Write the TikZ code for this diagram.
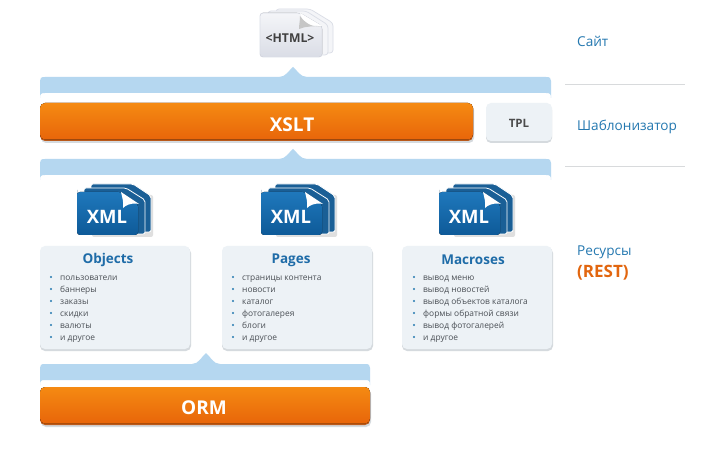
\documentclass[tikz,border=0pt]{standalone}
\usepackage{fontspec}
\setmainfont{Open Sans}
\usetikzlibrary{calc}
\definecolor{bandblue}{HTML}{B5D7F0}
\definecolor{orangeT}{HTML}{F58A12}
\definecolor{orangeB}{HTML}{E8650A}
\definecolor{orangeE}{HTML}{B9591A}
\definecolor{panel}{HTML}{EDF2F6}
\definecolor{panelS}{HTML}{D5DADE}
\definecolor{headblue}{HTML}{1F6CA8}
\definecolor{sideblue}{HTML}{2478B0}
\definecolor{restorange}{HTML}{E2660F}
\definecolor{itemtext}{HTML}{4A4F55}
\definecolor{xmlT}{HTML}{1F78BC}
\definecolor{xmlB}{HTML}{0E5A98}
\definecolor{xmlD}{HTML}{1A5F96}
\definecolor{sep}{HTML}{D8DADC}
\definecolor{htmlT}{HTML}{F4F5F8}
\definecolor{htmlB}{HTML}{DADDE6}
\tikzset{
  x=1pt,y=-1pt,
  bandfill/.style={fill=bandblue,draw=none},
  orangebar/.style={rounded corners=5pt,top color=orangeT,bottom color=orangeB,draw=none},
  orangeedge/.style={rounded corners=5pt,fill=orangeE,draw=none},
  softshadow/.style={rounded corners=5pt,fill=panelS,draw=none},
  panelbox/.style={rounded corners=5pt,fill=panel,draw=none},
  bartext/.style={text=white,font=\bfseries\fontsize{19}{22}\selectfont,inner sep=0pt,anchor=center},
  headtext/.style={text=headblue,font=\bfseries\fontsize{13.5}{16}\selectfont,inner sep=0pt,anchor=center},
  itemtextstyle/.style={text=itemtext,font=\fontsize{8.4}{12}\selectfont,inner sep=0pt,anchor=west},
  bulletdot/.style={circle,fill=sideblue,inner sep=0pt,minimum size=2.2pt},
  sidetext/.style={text=sideblue,font=\fontsize{13.6}{16}\selectfont,inner sep=0pt,anchor=west},
  sepline/.style={draw=sep,line width=0.8pt},
  xmlpage/.style={top color=xmlT,bottom color=xmlB,draw=none},
  xmlback/.style={fill=xmlD,draw=white,line width=0.8pt},
}
\newcommand{\bandshape}[6]{%
  \fill[bandfill] (#1,#4+5) -- (#1,#3+4) .. controls (#1,#3+1) and (#1+1,#3) .. (#1+5,#3)
    -- (#5-14,#3) .. controls (#5-7,#3) and (#5-4,#6+3) .. (#5,#6)
    .. controls (#5+4,#6+3) and (#5+7,#3) .. (#5+14,#3)
    -- (#2-5,#3) .. controls (#2-1,#3) and (#2,#3+1) .. (#2,#3+4) -- (#2,#4+5)
    .. controls (#2,#4+1) and (#2-1,#4) .. (#2-5,#4) -- (#1+5,#4) .. controls (#1+1,#4) and (#1,#4+1) .. (#1,#4+5) -- cycle;}
\newcommand{\xmlicon}[2]{%
  \begin{scope}[shift={(#1,192)}]
    \fill[gray!25,rounded corners=2pt] (15,3) rectangle (76,45);
    \fill[xmlback,rounded corners=2pt] (14,2) -- (14,-8) -- (56,-8) -- (74,4) -- (74,40) -- (14,40) -- cycle;
    \fill[xmlback,rounded corners=2pt] (7,2) -- (7,-4) -- (49,-4) -- (68,8) -- (68,42) -- (7,42) -- cycle;
    \fill[xmlpage,rounded corners=3pt] (0,1) -- (0,43) -- (61,43) -- (61,12) -- (44,0) -- (0,0) -- cycle;
    \fill[white] (44,0) -- (62,12) .. controls (54,10) and (48,14) .. (46,16) .. controls (47,10) and (45,5) .. (44,0) -- cycle;
    \node[inner sep=0pt,text=white,font=\bfseries\fontsize{18.5}{22}\selectfont] (#2) at (30,25) {XML};
  \end{scope}}
\begin{document}
\begin{tikzpicture}
\useasboundingbox (0,0) rectangle (710,449);
\fill[white] (0,0) rectangle (710,449);

% HTML icon
\begin{scope}[shift={(260,13)}]
  \fill[htmlT,draw=htmlB,line width=0.7pt,rounded corners=3pt] (16,-4) -- (50,-4) -- (73,10) -- (73,40) -- (16,40) -- cycle;
  \fill[htmlT,draw=htmlB,line width=0.7pt,rounded corners=3pt] (8,-2) -- (46,-2) -- (68,12) -- (68,42) -- (8,42) -- cycle;
  \fill[top color=htmlT,bottom color=htmlB,draw=htmlB,line width=0.7pt,rounded corners=3pt] (0,0) -- (40,0) -- (62,13) -- (62,44) -- (0,44) -- cycle;
  \fill[white] (40,0) -- (62,13) -- (44,12) -- cycle;
  \fill[gray!45] (40,3) .. controls (40,8) and (39,12) .. (39,16) .. controls (46,13) and (54,13) .. (62,14) .. controls (52,14) and (46,11) .. (40,3) -- cycle;
  \node[inner sep=0pt,text=black!75,font=\bfseries\fontsize{12.2}{14}\selectfont] (html) at (30,25) {<HTML>};
\end{scope}

% bands
\bandshape{40}{551}{77}{93}{293}{67}
\bandshape{40}{551}{159}{175}{293}{149}
\bandshape{40}{370}{364}{380}{206}{353}

% XSLT bar
\fill[softshadow] (41,105) rectangle (474,143);
\fill[orangeedge] (40,103) rectangle (473,141);
\fill[orangebar] (40,103) rectangle (473,139.5);
\node[bartext] (xslt) at (292,125) {XSLT};

% TPL
\fill[softshadow] (486,105) rectangle (552,143);
\fill[panelbox] (486,103) rectangle (552,141);
\node[inner sep=0pt,text=black!70,font=\bfseries\fontsize{11.5}{14}\selectfont] (tpl) at (519,123) {TPL};

% ORM
\fill[softshadow] (41,389) rectangle (371,427);
\fill[orangeedge] (40,387) rectangle (370,425);
\fill[orangebar] (40,387) rectangle (370,423.5);
\node[bartext] (orm) at (204,408) {ORM};

% XML icons
\xmlicon{77}{xmla}
\xmlicon{261}{xmlb}
\xmlicon{439}{xmlc}

% panels
\fill[softshadow] (40,248) rectangle (191,351);
\fill[panelbox] (40,246) rectangle (190,349);
\fill[softshadow] (222,248) rectangle (373,351);
\fill[panelbox] (222,246) rectangle (372,349);
\fill[softshadow] (402,248) rectangle (553,351);
\fill[panelbox] (402,246) rectangle (552,349);

\node[headtext] (hobj) at (108,260) {Objects};
\node[headtext] (hpag) at (291,260) {Pages};
\node[headtext] (hmac) at (473,260) {Macroses};

% item lists
\foreach \t [count=\i] in {пользователи,баннеры,заказы,скидки,валюты,и другое}{
  \node[bulletdot] (ad\i) at (51,{265+12*\i}) {};
  \node[itemtextstyle] (at\i) at (60,{266+12*\i}) {\strut\t};
}
\foreach \t [count=\i] in {страницы контента,новости,каталог,фотогалерея,блоги,и другое}{
  \node[bulletdot] (bd\i) at (233,{265+12*\i}) {};
  \node[itemtextstyle] (bt\i) at (242,{266+12*\i}) {\strut\t};
}
\foreach \t [count=\i] in {вывод меню,вывод новостей,вывод объектов каталога,формы обратной связи,вывод фотогалерей,и другое}{
  \node[bulletdot] (cd\i) at (414,{265+12*\i}) {};
  \node[itemtextstyle] (ct\i) at (423,{266+12*\i}) {\strut\t};
}

% side labels
\node[sidetext] (site) at (577,43) {\strut Сайт};
\node[sidetext] (tpler) at (577,127) {\strut Шаблонизатор};
\node[sidetext] (res) at (577,252) {\strut Ресурсы};
\node[inner sep=0pt,anchor=west,text=restorange,font=\bfseries\fontsize{17}{19}\selectfont] (rest) at (577,274) {\strut(REST)};

% separators
\coordinate (s1a) at (565,84); \coordinate (s1b) at (685,84);
\coordinate (s2a) at (565,166); \coordinate (s2b) at (685,166);
\draw[sepline] (s1a) -- (s1b);
\draw[sepline] (s2a) -- (s2b);
\end{tikzpicture}
\end{document}
